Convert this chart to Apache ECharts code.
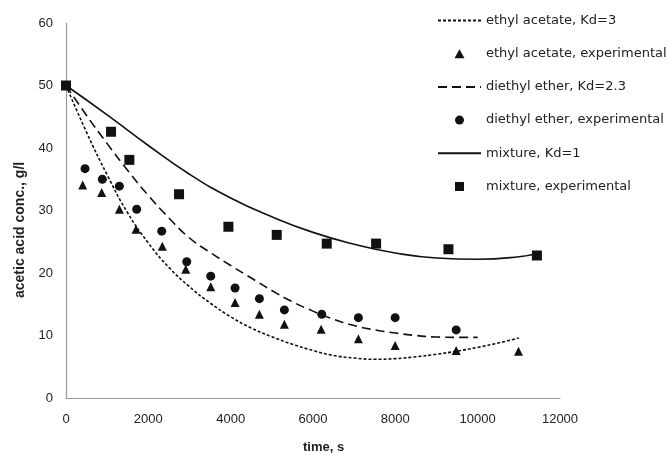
<!DOCTYPE html>
<html><head><meta charset="utf-8">
<script src="https://cdn.jsdelivr.net/npm/echarts@6/dist/echarts.min.js"></script>
<style>html,body{margin:0;padding:0;background:#fff}#c{width:667px;height:455px}</style>
</head><body><div id="c"></div>
<script>
// Model curves
const eaModelT = [0,500,1000,1500,2000,2500,3000,3500,4000,4500,5000,5500,6000,6500,7000,7500,8000,8500,9000,9500,10000,10500,11000];
const eaModelC = [50,42.5,35.7,29.6,24.8,20.9,17.8,15.2,13.0,11.2,9.8,8.6,7.6,6.8,6.4,6.2,6.3,6.6,7.0,7.5,8.1,8.8,9.6];
const deModelT = [0,500,1000,1500,2000,2500,3000,3500,4000,4500,5000,5500,6000,6500,7000,7500,8000,8500,9000,9500,10000];
const deModelC = [50,45.2,40.7,36.4,32.4,28.8,25.6,23.3,21.2,19.2,17.2,15.4,13.9,12.6,11.6,10.9,10.4,10.0,9.75,9.7,9.7];
const mxModelT = [0,1000,2000,3000,4000,5000,6000,7000,8000,9000,10000,11000,11500];
const mxModelC = [50,45.3,40.4,35.8,32.0,29.0,26.5,24.6,23.2,22.4,22.2,22.6,23.2];
// Experimental
const eaExpT = [0,405,867,1296,1701,2340,2909,3516,4107,4698,5305,6197,7103,7995,9478,10992];
const eaExpC = [50,34.1,32.9,30.2,27.0,24.3,20.6,17.8,15.3,13.4,11.8,11.0,9.5,8.4,7.6,7.5];
const deExpT = [0,462,883,1296,1717,2325,2933,3516,4107,4698,5305,6213,7103,7995,9478];
const deExpC = [50,36.7,35.0,33.9,30.2,26.7,21.8,19.5,17.6,15.9,14.1,13.4,12.85,12.85,10.9];
const mxExpT = [0,1094,1539,2746,3945,5119,6334,7533,9290,11439];
const mxExpC = [50,42.6,38.1,32.6,27.4,26.1,24.7,24.7,23.8,22.8];
const xTicks = [0,2000,4000,6000,8000,10000,12000];
const yTicks = [0,10,20,30,40,50,60];
const names = ['ethyl acetate, Kd=3','ethyl acetate, experimental','diethyl ether, Kd=2.3','diethyl ether, experimental','mixture, Kd=1','mixture, experimental'];

const zip = (a,b) => a.map((v,i)=>[v,b[i]]);
const ink = '#111';
const chart = echarts.init(document.getElementById('c'), null, {renderer:'canvas'});
const lineS = (name, t, c, type) => ({
  name, type:'line', data: zip(t,c), smooth:0.5, symbol:'none', z:2,
  lineStyle:{color:ink, width:1.6, type}, itemStyle:{color:ink}
});
const scatS = (name, t, c, symbol, size) => ({
  name, type:'scatter', data: zip(t,c), symbol, symbolSize:size, z:3,
  itemStyle:{color:ink, opacity:1}
});
const hide = {color:'rgba(0,0,0,0)', borderWidth:0};
const triPath = 'path://M5,0L10,9L0,9Z';
const circPath = 'path://M0,4.5A4.5,4.5,0,1,0,9,4.5A4.5,4.5,0,1,0,0,4.5Z';
const sqPath = 'path://M0,0L9,0L9,9L0,9Z';
chart.setOption({
  animation:false,
  backgroundColor:'#fff',
  grid:{left:66, right:107, top:23, bottom:57, containLabel:false},
  xAxis:{type:'value', min:xTicks[0], max:xTicks[xTicks.length-1], interval:2000,
    axisLine:{show:true, onZero:false, lineStyle:{color:'#999', width:1.2}},
    axisTick:{show:false}, splitLine:{show:false},
    axisLabel:{color:'#222', fontFamily:'Liberation Sans', fontSize:13, margin:15, formatter:v=>String(v)}
  },
  yAxis:{type:'value', min:yTicks[0], max:yTicks[yTicks.length-1], interval:10,
    axisLine:{show:true, lineStyle:{color:'#999', width:1.2}},
    axisTick:{show:false}, splitLine:{show:false},
    axisLabel:{color:'#222', fontFamily:'Liberation Sans', fontSize:13, margin:13}
  },
  legend:{orient:'vertical', left:432, top:9, itemWidth:43, itemHeight:9, itemGap:20.2,
    data:[
      {name:names[0], itemStyle:hide},
      {name:names[1], icon:triPath, itemStyle:{color:ink}},
      {name:names[2], itemStyle:hide},
      {name:names[3], icon:circPath, itemStyle:{color:ink}},
      {name:names[4], itemStyle:hide},
      {name:names[5], icon:sqPath, itemStyle:{color:ink}}
    ],
    textStyle:{color:'#222', fontFamily:'DejaVu Sans', fontSize:13}
  },
  graphic:[
    {type:'text', x:303, y:441, style:{text:'time, s', font:'bold 13px "Liberation Sans"', fill:'#222'}},
    {type:'text', rotation:Math.PI/2, x:13, y:298, style:{text:'acetic acid conc., g/l', font:'bold 14px "Liberation Sans"', fill:'#222'}}
  ],
  series:[
    lineS(names[0], eaModelT, eaModelC, [3,2]),
    scatS(names[1], eaExpT, eaExpC, 'triangle', 9),
    lineS(names[2], deModelT, deModelC, [9,5]),
    scatS(names[3], deExpT, deExpC, 'circle', 9),
    lineS(names[4], mxModelT, mxModelC, 'solid'),
    scatS(names[5], mxExpT, mxExpC, 'rect', 10)
  ]
});
</script></body></html>
